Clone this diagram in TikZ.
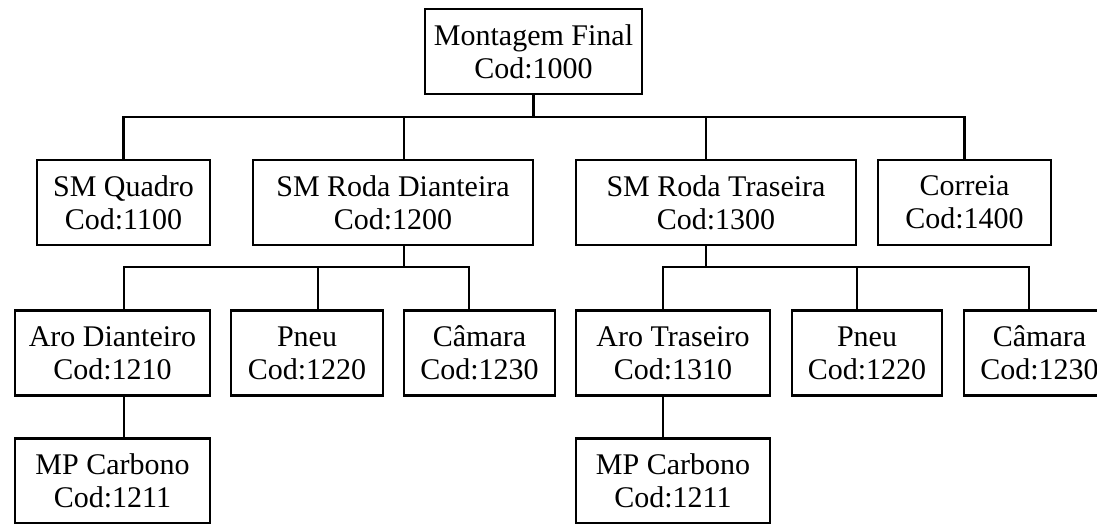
\documentclass[tikz,border=0pt]{standalone}
\usepackage{fontspec}
\setmainfont{Liberation Serif}
\begin{document}
\begin{tikzpicture}[x=1pt,y=-1pt,
  box/.style={draw,line width=2.5pt,align=center,inner sep=0pt,minimum height=85pt,font=\fontsize{30}{33}\selectfont},
  link/.style={line width=2.5pt}]
\useasboundingbox (0,0) rectangle (1097,524);

\node[box,minimum width=217pt] (mf) at (533.5,51.5) {Montagem Final\\Cod:1000};

\node[box,minimum width=173pt] (quadro) at (123.5,202.5) {SM Quadro\\Cod:1100};
\node[box,minimum width=280pt] (rd) at (393,202.5) {SM Roda Dianteira\\Cod:1200};
\node[box,minimum width=280pt] (rt) at (716,202.5) {SM Roda Traseira\\Cod:1300};
\node[box,minimum width=173pt] (correia) at (964.5,202.5) {Correia\\Cod:1400};

\node[box,minimum width=195pt] (ad) at (112.5,353) {Aro Dianteiro\\Cod:1210};
\node[box,minimum width=152pt] (pneuA) at (307,353) {Pneu\\Cod:1220};
\node[box,minimum width=151pt] (camA) at (479.5,353) {Câmara\\Cod:1230};
\node[box,minimum width=194pt] (at) at (673,353) {Aro Traseiro\\Cod:1310};
\node[box,minimum width=150pt] (pneuB) at (867,353) {Pneu\\Cod:1220};
\node[box,minimum width=151pt] (camB) at (1039.5,353) {Câmara\\Cod:1230};

\node[box,minimum width=195pt] (mpA) at (112.5,481) {MP Carbono\\Cod:1211};
\node[box,minimum width=194pt] (mpB) at (673,481) {MP Carbono\\Cod:1211};

\coordinate (bar1) at (0,117);
\coordinate (bar2) at (0,267);

\foreach \n/\dx in {quadro/0,rd/11,rt/-10,correia/0}
  \draw[link] (mf.south) -- (mf.south |- bar1) -| ([xshift=\dx pt]\n.north);

\foreach \n/\dx in {ad/11.5,pneuA/11,camA/-10.5}
  \draw[link] ([xshift=11pt]rd.south) -- ([xshift=11pt]rd.south |- bar2) -| ([xshift=\dx pt]\n.north);
\foreach \n/\dx in {at/-10,pneuB/-10,camB/-10.5}
  \draw[link] ([xshift=-10pt]rt.south) -- ([xshift=-10pt]rt.south |- bar2) -| ([xshift=\dx pt]\n.north);

\draw[link] ([xshift=11.5pt]ad.south) -- ([xshift=11.5pt]mpA.north);
\draw[link] ([xshift=-10pt]at.south) -- ([xshift=-10pt]mpB.north);
\end{tikzpicture}
\end{document}
